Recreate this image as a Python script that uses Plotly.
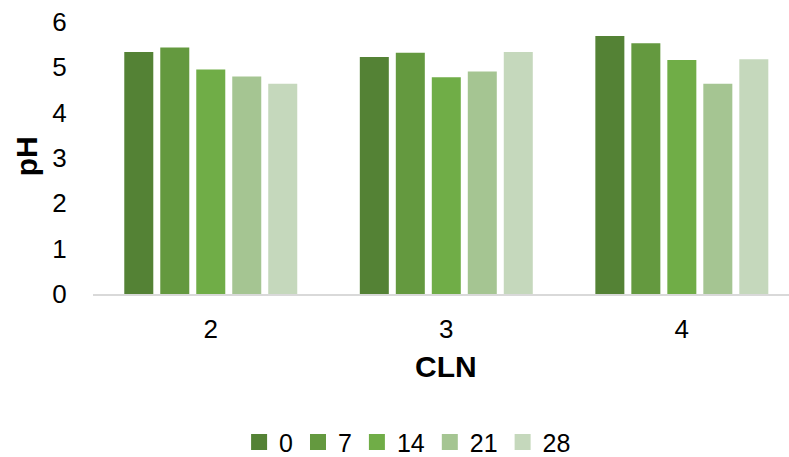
import plotly.graph_objects as go

# pH of each CLN sample over storage days
categories = ["2", "3", "4"]
days = ["0", "7", "14", "21", "28"]
ph_day0 = [5.34, 5.23, 5.69]
ph_day7 = [5.44, 5.32, 5.53]
ph_day14 = [4.95, 4.78, 5.16]
ph_day21 = [4.80, 4.91, 4.64]
ph_day28 = [4.64, 5.34, 5.18]
series = [ph_day0, ph_day7, ph_day14, ph_day21, ph_day28]
colors = ["#548235", "#64993F", "#70AD47", "#A5C592", "#C5D8BC"]

FONT = "Liberation Sans, Arial, sans-serif"

fig = go.Figure()
for name, vals, col in zip(days, series, colors):
    fig.add_trace(go.Bar(
        x=categories, y=vals, name=name,
        marker=dict(color=col, line=dict(width=0)),
        showlegend=False,
    ))
    # square swatch for the legend entry
    fig.add_trace(go.Scatter(
        x=[None], y=[None], mode="markers", name=name,
        marker=dict(symbol="square", size=16, color=col),
        showlegend=True,
    ))

fig.update_layout(
    width=789, height=457,
    margin=dict(l=93, r=0, t=22, b=163, autoexpand=False),
    paper_bgcolor="white", plot_bgcolor="white",
    barmode="group", bargap=0.236, bargroupgap=0.194,
    font=dict(family=FONT, size=26, color="#000000"),
    showlegend=True,
    legend=dict(
        orientation="h", x=0.452, y=-0.545,
        xanchor="center", yanchor="middle",
        font=dict(family=FONT, size=25, color="#000000"),
        itemwidth=30, tracegroupgap=0,
    ),
    xaxis=dict(
        type="category", range=[-0.5, 2.455],
        showline=True, linecolor="#D9D9D9", linewidth=1.5,
        showgrid=False, zeroline=False,
        ticks="outside", ticklen=11, tickcolor="rgba(0,0,0,0)",
        tickfont=dict(family=FONT, size=26, color="#000000"),
    ),
    yaxis=dict(
        range=[0, 6], dtick=1, tick0=0,
        showline=False, showgrid=False, zeroline=False,
        ticks="outside", ticklen=20, tickcolor="rgba(0,0,0,0)",
        tickfont=dict(family=FONT, size=26, color="#000000"),
    ),
    annotations=[
        dict(text="<b>CLN</b>", xref="paper", yref="paper",
             x=0.507, y=-0.265, xanchor="center", yanchor="middle",
             showarrow=False, font=dict(family=FONT, size=30, color="#000000")),
        dict(text="<b>pH</b>", xref="paper", yref="paper",
             x=-0.096, y=0.507, xanchor="center", yanchor="middle",
             textangle=-90, showarrow=False,
             font=dict(family=FONT, size=30, color="#000000")),
    ],
)

fig.write_html("out.html")
